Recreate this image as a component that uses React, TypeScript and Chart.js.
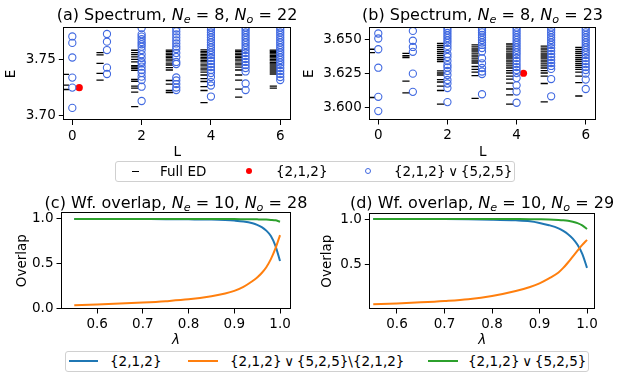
import React, { useEffect, useRef } from 'react';
import { Chart, registerables } from 'chart.js';
Chart.register(...registerables);

const FONT = "'DejaVu Sans', sans-serif";
const W = 623;
const H = 381;

// ---------------- Spectrum data ----------------
const L_VALUES = [0, 1, 2, 3, 4, 5, 6];
const SPEC_X_TICKS = [0, 2, 4, 6];

// (a) N_e = 8, N_o = 22
const fullEdA: number[][] = [
  [3.7365, 3.7269, 3.7229],
  [3.7559, 3.7539, 3.7464, 3.7374, 3.7314],
  [3.7581, 3.7559, 3.7541, 3.7521, 3.75, 3.7476, 3.7444, 3.7431, 3.7416, 3.7401, 3.732, 3.7303, 3.726, 3.7242, 3.7206, 3.7075],
  [3.7583, 3.7571, 3.7556, 3.7544, 3.7529, 3.7517, 3.7502, 3.7486, 3.7466, 3.7449, 3.7426, 3.7404, 3.731, 3.7278, 3.722, 3.7202],
  [3.7584, 3.7569, 3.7558, 3.7542, 3.7531, 3.7515, 3.7504, 3.7488, 3.7477, 3.7457, 3.7441, 3.7421, 3.7405, 3.7385, 3.7359, 3.7327, 3.7301, 3.7255, 3.722, 3.7112],
  [3.7582, 3.7571, 3.7556, 3.7544, 3.7529, 3.7517, 3.7502, 3.7486, 3.7466, 3.745, 3.743, 3.7404, 3.7359, 3.7314, 3.7233, 3.7161],
  [3.7583, 3.7572, 3.756, 3.7548, 3.7536, 3.7524, 3.7512, 3.7498, 3.7485, 3.7471, 3.7458, 3.744, 3.7422, 3.7404, 3.7386, 3.7368, 3.726, 3.7242],
];
const combA: number[][] = [
  [3.7705, 3.7647, 3.7516, 3.7336, 3.7246, 3.7064],
  [3.7727, 3.7658, 3.7583, 3.7425, 3.7368],
  [3.778, 3.7724, 3.7703, 3.768, 3.7655, 3.7635, 3.7613, 3.7583, 3.7545, 3.7512, 3.7478, 3.7464, 3.7434, 3.7404, 3.7377, 3.7344, 3.7314, 3.7254, 3.7126],
  [3.7776, 3.775, 3.7723, 3.7696, 3.7669, 3.7642, 3.7615, 3.7592, 3.7557, 3.7521, 3.7476, 3.7458, 3.7337, 3.731, 3.7278, 3.7247, 3.7224],
  [3.7785, 3.7763, 3.7741, 3.7718, 3.7696, 3.7673, 3.7651, 3.7628, 3.7606, 3.7583, 3.7561, 3.7539, 3.7512, 3.7485, 3.7458, 3.7431, 3.7404, 3.7377, 3.7341, 3.7296, 3.7265, 3.7166],
  [3.7785, 3.7763, 3.7741, 3.7718, 3.7696, 3.7673, 3.7651, 3.7628, 3.7606, 3.7583, 3.7557, 3.753, 3.7503, 3.7476, 3.7449, 3.7422, 3.7391, 3.7283, 3.7224],
  [3.7785, 3.7763, 3.7741, 3.7718, 3.7696, 3.7673, 3.7651, 3.7628, 3.7606, 3.7583, 3.7561, 3.7539, 3.7516, 3.7494, 3.7471, 3.7449, 3.7422, 3.7395, 3.7368, 3.7341, 3.7314],
];
const redA_L = 0;
const redA_E = 3.7245;
const Y_TICKS_A = [3.7, 3.75];

// (b) N_e = 8, N_o = 23
const fullEdB: number[][] = [
  [3.643, 3.6405, 3.6072],
  [3.64, 3.6382, 3.6369, 3.6194, 3.6107],
  [3.6473, 3.6458, 3.6443, 3.6428, 3.6413, 3.6399, 3.6384, 3.6369, 3.6354, 3.6339, 3.6269, 3.6254, 3.6239, 3.6205, 3.6187, 3.6157, 3.6124, 3.6023],
  [3.6462, 3.6447, 3.6432, 3.6417, 3.6402, 3.6387, 3.6373, 3.6358, 3.6343, 3.6328, 3.6302, 3.628, 3.6261, 3.6235, 3.6066],
  [3.6469, 3.6454, 3.6439, 3.6425, 3.641, 3.6395, 3.638, 3.6365, 3.635, 3.6336, 3.6321, 3.6306, 3.6291, 3.6272, 3.6254, 3.6231, 3.6209, 3.6179, 3.6135, 3.6092, 3.6023],
  [3.6454, 3.6439, 3.6425, 3.641, 3.6395, 3.638, 3.6365, 3.635, 3.6336, 3.6321, 3.6306, 3.6291, 3.6272, 3.6254, 3.6231, 3.6176, 3.604],
  [3.6443, 3.6428, 3.6413, 3.6399, 3.6384, 3.6369, 3.6354, 3.6339, 3.6324, 3.631, 3.6295, 3.628, 3.6261, 3.6231, 3.6182, 3.6083],
];
const combB: number[][] = [
  [3.6547, 3.651, 3.643, 3.6293, 3.6077, 3.5971],
  [3.6566, 3.6493, 3.6447, 3.6411, 3.6249, 3.6114],
  [3.6588, 3.6569, 3.6551, 3.6532, 3.6514, 3.6495, 3.6477, 3.6455, 3.6432, 3.6395, 3.6373, 3.6343, 3.6313, 3.6295, 3.6269, 3.6239, 3.6202, 3.6176, 3.6142, 3.6038],
  [3.6586, 3.6569, 3.6555, 3.6536, 3.6517, 3.6499, 3.648, 3.6462, 3.6439, 3.6413, 3.6363, 3.6326, 3.6291, 3.6265, 3.6246, 3.6096],
  [3.6592, 3.6573, 3.6555, 3.6536, 3.6517, 3.6499, 3.648, 3.6462, 3.6443, 3.6425, 3.6406, 3.6387, 3.6365, 3.6343, 3.632, 3.6298, 3.6276, 3.6254, 3.6216, 3.6162, 3.6116, 3.6033],
  [3.6592, 3.6573, 3.6555, 3.6536, 3.6517, 3.6499, 3.648, 3.6462, 3.6439, 3.6417, 3.6395, 3.6373, 3.635, 3.6328, 3.6306, 3.6284, 3.6209, 3.6081],
  [3.6592, 3.6573, 3.6555, 3.6536, 3.6517, 3.6499, 3.648, 3.6462, 3.6443, 3.6425, 3.6406, 3.6387, 3.6365, 3.6343, 3.632, 3.6298, 3.6276, 3.625, 3.6205, 3.6135],
];
const redB_L = 4;
const redB_E = 3.6252;
const Y_TICKS_B = [3.6, 3.625, 3.65];

// ---------------- Overlap data ----------------
const LAMBDAS = [0.55, 0.6, 0.65, 0.7, 0.75, 0.8, 0.85, 0.88, 0.9, 0.92, 0.94, 0.95, 0.96, 0.97, 0.98, 0.99, 1.0];
const OV_X_TICKS = [0.6, 0.7, 0.8, 0.9, 1.0];

// (c) N_e = 10, N_o = 28
const c212 = [1.0, 1.0, 1.0, 0.999, 0.998, 0.996, 0.993, 0.988, 0.982, 0.972, 0.952, 0.935, 0.91, 0.87, 0.81, 0.7, 0.53];
const cDiff = [0.035, 0.043, 0.053, 0.065, 0.08, 0.1, 0.135, 0.165, 0.195, 0.24, 0.305, 0.345, 0.395, 0.46, 0.55, 0.67, 0.82];
const cComb = [1.0, 1.0, 1.0, 1.0, 1.0, 1.0, 1.0, 0.999, 0.999, 0.998, 0.997, 0.996, 0.995, 0.993, 0.99, 0.985, 0.97];
const Y_TICKS_C = [0.0, 0.5, 1.0];

// (d) N_e = 10, N_o = 29
const d212 = [1.0, 1.0, 1.0, 0.999, 0.997, 0.993, 0.985, 0.975, 0.957, 0.932, 0.897, 0.868, 0.832, 0.783, 0.715, 0.615, 0.46];
const dDiff = [0.058, 0.068, 0.08, 0.095, 0.115, 0.15, 0.205, 0.25, 0.29, 0.345, 0.41, 0.46, 0.52, 0.585, 0.65, 0.715, 0.77];
const dComb = [1.0, 1.0, 1.0, 1.0, 1.0, 1.0, 0.999, 0.998, 0.997, 0.995, 0.99, 0.986, 0.98, 0.97, 0.955, 0.93, 0.89];
const Y_TICKS_D = [0.5, 1.0];

// ---------------- Styles ----------------
const C_BLUE = '#1f77b4';
const C_ORANGE = '#ff7f0e';
const C_GREEN = '#2ca02c';
const C_ROYAL = '#4169e1';
const ED_SHIFT = -0.2;
const RED_SHIFT = 0.2;
const TICK_FONT = 13.5;
const LABEL_LH = TICK_FONT * 1.2;
const X_SCALE_H = 50;

const framePlugin = {
  id: 'frameBox',
  afterDatasetsDraw(chart: any) {
    const { ctx, chartArea: a } = chart;
    ctx.save();
    ctx.strokeStyle = '#000';
    ctx.lineWidth = 1;
    const l = Math.round(a.left) + 0.5;
    const t = Math.round(a.top) + 0.5;
    const r = Math.round(a.right) - 0.5;
    const b = Math.round(a.bottom) - 0.5;
    ctx.strokeRect(l, t, r - l, b - t);
    ctx.restore();
  },
};

type Box = {
  padLeft: number; left: number; top: number; right: number; bottom: number;
  xMin: number; xMax: number; yMin: number; yMax: number;
  xTicks: number[]; yTicks: number[]; xDec: number; yDec: number;
  xTitle: string; yTitle: string; xItalic?: boolean;
  xTitleCY: number; yTitleCX: number;
};

function scales(b: Box) {
  const tickFont = { family: FONT, size: TICK_FONT };
  const grid = { display: true, drawOnChartArea: false, drawTicks: true, tickLength: 4.5, color: '#000', lineWidth: 1 };
  return {
    x: {
      type: 'linear', position: 'bottom', min: b.xMin, max: b.xMax,
      grid, border: { display: false },
      afterBuildTicks: (s: any) => { s.ticks = b.xTicks.map((v) => ({ value: v })); },
      afterFit: (s: any) => { s.height = X_SCALE_H; },
      ticks: { font: tickFont, color: '#000', padding: 3, maxRotation: 0, autoSkip: false,
        callback: (v: any) => Number(v).toFixed(b.xDec) },
      title: { display: true, text: b.xTitle, color: '#000',
        font: { family: FONT, size: TICK_FONT, style: b.xItalic ? 'italic' : 'normal', lineHeight: 1.2 },
        padding: { top: 0, bottom: b.bottom + X_SCALE_H - LABEL_LH / 2 - b.xTitleCY } },
    },
    y: {
      type: 'linear', position: 'left', min: b.yMin, max: b.yMax,
      grid, border: { display: false },
      afterBuildTicks: (s: any) => { s.ticks = b.yTicks.map((v) => ({ value: v })); },
      afterFit: (s: any) => { s.width = b.left - b.padLeft; },
      ticks: { font: tickFont, color: '#000', padding: 3, autoSkip: false,
        callback: (v: any) => Number(v).toFixed(b.yDec) },
      title: { display: true, text: b.yTitle, color: '#000',
        font: { family: FONT, size: TICK_FONT, lineHeight: 1.2 },
        padding: { top: b.yTitleCX - b.padLeft - LABEL_LH / 2, bottom: 0 } },
    },
  };
}

function baseOptions(b: Box) {
  return {
    responsive: false,
    animation: false,
    devicePixelRatio: 1,
    events: [],
    layout: { padding: { left: b.padLeft, top: b.top, right: W - b.right, bottom: H - b.bottom - X_SCALE_H } },
    plugins: { legend: { display: false }, tooltip: { enabled: false }, title: { display: false } },
    scales: scales(b),
  };
}

function spectrumConfig(b: Box, fullEd: number[][], comb: number[][], redL: number, redE: number) {
  const edPts: { x: number; y: number }[] = [];
  fullEd.forEach((arr, i) => arr.forEach((e) => edPts.push({ x: L_VALUES[i] + ED_SHIFT, y: e })));
  const combPts: { x: number; y: number }[] = [];
  comb.forEach((arr, i) => arr.forEach((e) => combPts.push({ x: L_VALUES[i], y: e })));
  return {
    type: 'scatter',
    data: {
      datasets: [
        { label: 'Full ED', data: edPts, order: 2, clip: 0, pointStyle: 'line', pointRadius: 3.6,
          borderColor: '#000', backgroundColor: '#000', pointBorderWidth: 1.3 },
        { label: '{2,1,2}', data: [{ x: redL + RED_SHIFT, y: redE }], order: 1, clip: 0, pointStyle: 'circle',
          pointRadius: 3.6, backgroundColor: '#ff0000', borderColor: '#ff0000', pointBorderWidth: 0 },
        { label: '{2,1,2}∨{5,2,5}', data: combPts, order: 0, clip: 0, pointStyle: 'circle', pointRadius: 3.6,
          backgroundColor: 'rgba(0,0,0,0)', borderColor: C_ROYAL, pointBorderWidth: 1.1 },
      ],
    },
    options: baseOptions(b),
    plugins: [framePlugin],
  };
}

function overlapConfig(b: Box, s212: number[], sDiff: number[], sComb: number[]) {
  const line = (vals: number[]) => vals.map((v, i) => ({ x: LAMBDAS[i], y: v }));
  const common = { showLine: true, pointRadius: 0, borderWidth: 2, clip: 0, cubicInterpolationMode: 'monotone' };
  return {
    type: 'scatter',
    data: {
      datasets: [
        { label: '{2,1,2}', data: line(s212), borderColor: C_BLUE, backgroundColor: C_BLUE, order: 2, ...common },
        { label: '{2,1,2}∨{5,2,5}\\{2,1,2}', data: line(sDiff), borderColor: C_ORANGE, backgroundColor: C_ORANGE, order: 1, ...common },
        { label: '{2,1,2}∨{5,2,5}', data: line(sComb), borderColor: C_GREEN, backgroundColor: C_GREEN, order: 0, ...common },
      ],
    },
    options: baseOptions(b),
    plugins: [framePlugin],
  };
}

const boxA: Box = { padLeft: 0, left: 63.3, top: 27.3, right: 291, bottom: 120.5,
  xMin: -0.26, xMax: 6.31, yMin: 3.6951, yMax: 3.7787, xTicks: SPEC_X_TICKS, yTicks: Y_TICKS_A,
  xDec: 0, yDec: 2, xTitle: 'L', yTitle: 'E', xTitleCY: 152.7, yTitleCX: 11.5 };
const boxB: Box = { padLeft: 296, left: 369.3, top: 27.3, right: 596, bottom: 120,
  xMin: -0.26, xMax: 6.297, yMin: 3.5905, yMax: 3.6593, xTicks: SPEC_X_TICKS, yTicks: Y_TICKS_B,
  xDec: 0, yDec: 3, xTitle: 'L', yTitle: 'E', xTitleCY: 152.7, yTitleCX: 309.5 };
const boxC: Box = { padLeft: 0, left: 61, top: 212.3, right: 291, bottom: 309,
  xMin: 0.521, xMax: 1.024, yMin: -0.008, yMax: 1.075, xTicks: OV_X_TICKS, yTicks: Y_TICKS_C,
  xDec: 1, yDec: 1, xTitle: 'λ', yTitle: 'Overlap', xItalic: true, xTitleCY: 340, yTitleCX: 22.5 };
const boxD: Box = { padLeft: 300, left: 369.3, top: 213.3, right: 595, bottom: 309,
  xMin: 0.5417, xMax: 1.0168, yMin: 0.0066, yMax: 1.063, xTicks: OV_X_TICKS, yTicks: Y_TICKS_D,
  xDec: 1, yDec: 1, xTitle: 'λ', yTitle: 'Overlap', xItalic: true, xTitleCY: 340, yTitleCX: 327.5 };

function ChartCanvas({ makeConfig }: { makeConfig: () => any }) {
  const ref = useRef<HTMLCanvasElement | null>(null);
  useEffect(() => {
    if (!ref.current) return;
    const chart = new Chart(ref.current, makeConfig());
    return () => chart.destroy();
  }, []);
  return (
    <canvas ref={ref} width={W} height={H}
      style={{ position: 'absolute', left: 0, top: 0, width: W, height: H }} />
  );
}

function Title({ cx, cy, prefix, ne, no }: { cx: number; cy: number; prefix: string; ne: number; no: number }) {
  const sub: React.CSSProperties = { fontSize: '70%', fontStyle: 'italic', position: 'relative', top: '0.28em', lineHeight: 0 };
  return (
    <div style={{ position: 'absolute', left: cx, top: cy, transform: 'translate(-50%, -50%)', whiteSpace: 'nowrap',
      fontFamily: FONT, fontSize: 16, lineHeight: '20px', color: '#000' }}>
      {prefix}
      <i>N</i><span style={sub}>e</span>{' = '}{ne}{', '}
      <i>N</i><span style={sub}>o</span>{' = '}{no}
    </div>
  );
}

const legText: React.CSSProperties = { position: 'absolute', fontFamily: FONT, fontSize: TICK_FONT, lineHeight: '16px',
  transform: 'translateY(-50%)', whiteSpace: 'nowrap', color: '#000' };
const legBox: React.CSSProperties = { position: 'absolute', border: '1px solid #d0d0d0', borderRadius: 3, background: '#fff', boxSizing: 'border-box' };

export default function App() {
  const l1y = 171;
  const l2y = 361;
  return (
    <div style={{ position: 'absolute', left: 0, top: 0, width: W, height: H, background: '#fff', overflow: 'hidden' }}>
      <ChartCanvas makeConfig={() => spectrumConfig(boxA, fullEdA, combA, redA_L, redA_E)} />
      <ChartCanvas makeConfig={() => spectrumConfig(boxB, fullEdB, combB, redB_L, redB_E)} />
      <ChartCanvas makeConfig={() => overlapConfig(boxC, c212, cDiff, cComb)} />
      <ChartCanvas makeConfig={() => overlapConfig(boxD, d212, dDiff, dComb)} />

      <Title cx={177} cy={15} prefix="(a) Spectrum, " ne={8} no={22} />
      <Title cx={482.5} cy={15} prefix="(b) Spectrum, " ne={8} no={23} />
      <Title cx={176} cy={203} prefix="(c) Wf. overlap, " ne={10} no={28} />
      <Title cx={482} cy={203} prefix="(d) Wf. overlap, " ne={10} no={29} />

      {/* Legend 1 */}
      <div style={{ ...legBox, left: 115, top: l1y - 10, width: 400, height: 21 }} />
      <div style={{ position: 'absolute', left: 131.5, top: l1y - 0.5, width: 7, height: 1, background: '#000' }} />
      <span style={{ ...legText, left: 160, top: l1y }}>Full ED</span>
      <div style={{ position: 'absolute', left: 246, top: l1y - 3, width: 6, height: 6, borderRadius: '50%', background: '#ff0000' }} />
      <span style={{ ...legText, left: 276, top: l1y }}>{'{2,1,2}'}</span>
      <div style={{ position: 'absolute', left: 365, top: l1y - 3, width: 6, height: 6, borderRadius: '50%', border: `1px solid ${C_ROYAL}`, boxSizing: 'border-box' }} />
      <span style={{ ...legText, left: 394, top: l1y }}>{'{2,1,2}\u2009∨\u2009{5,2,5}'}</span>

      {/* Legend 2 */}
      <div style={{ ...legBox, left: 65, top: l2y - 10, width: 524, height: 21 }} />
      <div style={{ position: 'absolute', left: 69, top: l2y - 1, width: 29, height: 2, background: C_BLUE }} />
      <span style={{ ...legText, left: 110, top: l2y }}>{'{2,1,2}'}</span>
      <div style={{ position: 'absolute', left: 188, top: l2y - 1, width: 30, height: 2, background: C_ORANGE }} />
      <span style={{ ...legText, left: 230, top: l2y }}>{'{2,1,2}\u2009∨\u2009{5,2,5}\\{2,1,2}'}</span>
      <div style={{ position: 'absolute', left: 428, top: l2y - 1, width: 30, height: 2, background: C_GREEN }} />
      <span style={{ ...legText, left: 468, top: l2y }}>{'{2,1,2}\u2009∨\u2009{5,2,5}'}</span>
    </div>
  );
}
